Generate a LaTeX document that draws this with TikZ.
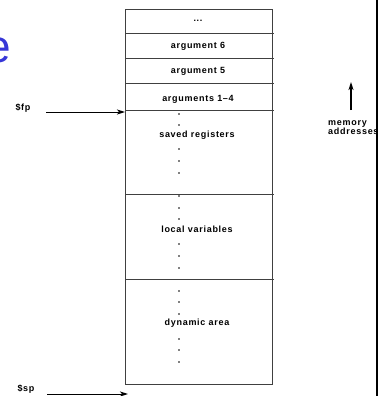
\documentclass[tikz,border=0pt]{standalone}
\usepackage{fontspec}
\usetikzlibrary{arrows.meta}
\setmainfont{Liberation Sans}
\newfontfamily\lblfont[LetterSpace=8]{Liberation Sans}
\definecolor{titleblue}{RGB}{55,55,215}

\tikzstyle{cell}=[draw=black!75,line width=0.8pt]
\tikzstyle{lbl}=[font=\lblfont\bfseries\fontsize{9}{9}\selectfont,inner sep=0pt]
\tikzstyle{ptr}=[-{Stealth[length=8pt,width=5pt,inset=2pt]},line width=1pt]

\begin{document}
\begin{tikzpicture}[x=1pt,y=-1pt]
   \clip (0,0) rectangle (382,396);

   % slide title, cut off at the edge
   \node[text=titleblue,font=\fontsize{46}{46}\selectfont,inner sep=0pt,anchor=base east] (title) at (11,63) {e};

   % the stack frame
   \draw[cell] (125,9) coordinate(ftl) rectangle (272,384) coordinate(fbr);
   \foreach \y in {33,58,83,110,194,279}
      \draw[cell] (125,\y) -- (274,\y);

   \node[lbl] (more) at (198,21) {...};
   \node[lbl] (arg6) at (198,46) {argument 6};
   \node[lbl] (arg5) at (198,71) {argument 5};
   \node[lbl] (args) at (198,99) {arguments 1\textendash4};
   \node[lbl] (saved) at (197,135) {saved registers};
   \node[lbl] (locals) at (197,229) {local variables};
   \node[lbl] (dynamic) at (197,323) {dynamic area};

   \foreach \y in {114,125,149,161,173,196,208,219,244,256,268,291,302,314,339,350,362}
      \fill (179,\y) circle (0.8);

   % pointers
   \node[lbl] (fp) at (23,108) {\$fp};
   \coordinate (fpstart) at (46,112);
   \coordinate (fpend) at (125,112);
   \draw[ptr] (fpstart) -- (fpend);

   \node[lbl] (sp) at (26,389) {\$sp};
   \coordinate (spstart) at (47,394);
   \coordinate (spend) at (128,394);
   \draw[ptr] (spstart) -- (spend);

   % direction of addresses
   \coordinate (upfoot) at (351,110);
   \coordinate (uptip) at (351,82);
   \draw[ptr,line width=1.3pt] (upfoot) -- (uptip);
   \node[lbl,anchor=north west,align=left,font=\lblfont\bfseries\fontsize{9}{9.5}\selectfont] (mem) at (328,120) {memory\\addresses};

   \draw[line width=2.5pt] (377,0) coordinate(rtop) -- (377,396) coordinate(rbot);
\end{tikzpicture}
\end{document}
